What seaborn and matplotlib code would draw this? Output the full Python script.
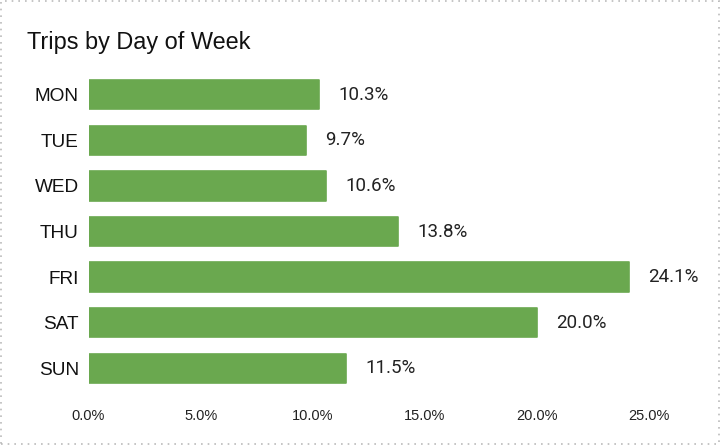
import matplotlib
matplotlib.use("Agg")
import matplotlib.pyplot as plt
from matplotlib.patches import Rectangle
from matplotlib.ticker import FuncFormatter
import seaborn as sns
import pandas as pd

days = ["MON", "TUE", "WED", "THU", "FRI", "SAT", "SUN"]
share = [10.3, 9.7, 10.6, 13.8, 24.1, 20.0, 11.5]
x_ticks = [0, 5, 10, 15, 20, 25]

sns.set_theme(style="white")
plt.rcParams["font.family"] = ["Liberation Sans", "DejaVu Sans"]

df = pd.DataFrame({"day": days, "share": share})

fig = plt.figure(figsize=(7.2, 4.45), dpi=100)
ax = fig.add_axes([88.5 / 720, 1 - 391 / 445, (649 - 88.5) / 720, (391 - 72) / 445])

sns.barplot(data=df, x="share", y="day", orient="h", color="#6aa84f",
            saturation=1, width=0.64, ax=ax)
for p in ax.patches:
    p.set_edgecolor("#6aa84f")
    p.set_linewidth(1.2)
    p.set_joinstyle("round")

ax.bar_label(ax.containers[0], labels=[f"{v:.1f}%" for v in share],
             padding=14, fontsize=13.5, color="#222222", family="Roboto")

ax.set_xlim(0, 25)
ax.set_xticks(x_ticks)
ax.xaxis.set_major_formatter(FuncFormatter(lambda v, _: f"{v:.1f}%"))
ax.tick_params(axis="x", labelsize=10.5, colors="#222222", length=0, pad=13)
ax.tick_params(axis="y", labelsize=13.7, colors="#111111", length=0, pad=7)
ax.set_xlabel("")
ax.set_ylabel("")
for s in ax.spines.values():
    s.set_visible(False)
ax.grid(False)

fig.text(27 / 720, 1 - 42 / 445, "Trips by Day of Week", fontsize=16.9,
         color="#111111", va="center", ha="left")

fig.patches.append(Rectangle((0.002, 0.003), 0.996, 0.994, transform=fig.transFigure,
                             fill=False, edgecolor="#bbbbbb", linewidth=1.2,
                             linestyle=(0, (1, 3))))

fig.savefig("out.png", dpi=100)
